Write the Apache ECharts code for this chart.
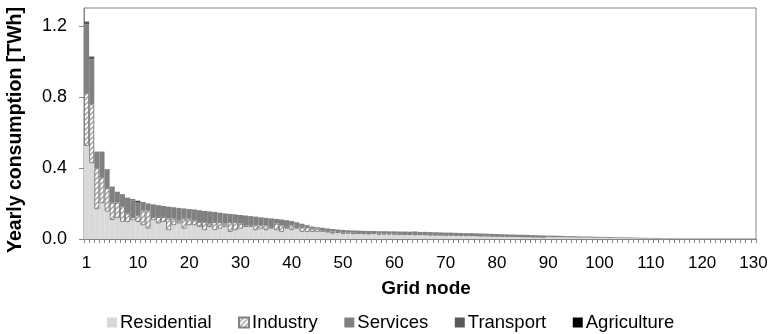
<!DOCTYPE html>
<html>
<head>
<meta charset="utf-8">
<script src="https://cdn.jsdelivr.net/npm/echarts@6/dist/echarts.min.js"></script>
<style>
  html, body { margin: 0; padding: 0; background: #fff; }
  #chart { width: 770px; height: 334px; }
</style>
</head>
<body>
<div id="chart"></div>
<script>
// Yearly consumption per grid node [TWh], by sector (nodes 1..131)
const residential = [
  0.524,0.426,0.167,0.201,0.154,0.107,0.117,0.097,0.096,0.105,
  0.096,0.077,0.058,0.105,0.087,0.096,0.049,0.077,0.087,0.058,
  0.077,0.077,0.068,0.049,0.068,0.049,0.058,0.068,0.040,0.049,
  0.058,0.068,0.068,0.049,0.058,0.049,0.058,0.049,0.040,0.058,
  0.049,0.058,0.040,0.040,0.040,0.040,0.040,0.036,0.030,0.034,
  0.028,0.031,0.026,0.030,0.027,0.025,0.029,0.024,0.027,0.025,
  0.026,0.023,0.025,0.024,0.022,0.024,0.023,0.021,0.022,0.021,
  0.020,0.021,0.019,0.020,0.018,0.019,0.018,0.017,0.017,0.016,
  0.016,0.015,0.015,0.014,0.014,0.013,0.013,0.012,0.012,0.011,
  0.011,0.010,0.010,0.010,0.009,0.009,0.008,0.008,0.008,0.007,
  0.007,0.007,0.006,0.006,0.006,0.005,0.005,0.005,0.004,0.004,
  0.004,0.003,0.003,0.003,0.002,0.002,0.002,0.001,0,0,
  0,0,0,0,0,0,0,0,0,0,
  0
];
const industry = [
  0.297,0.332,0.231,0.146,0.132,0.097,0.088,0.088,0.047,0.019,
  0.038,0.085,0.104,0.019,0.037,0.028,0.066,0.038,0.018,0.057,
  0.038,0.028,0.028,0.047,0.019,0.047,0.038,0.019,0.056,0.047,
  0.029,0.009,0.009,0.028,0.019,0.028,0.010,0.038,0.037,0.010,
  0.028,0.010,0.028,0.028,0.018,0.018,0.009,0.008,0.012,0.006,
  0.010,0.006,0.009,0.004,0.007,0.008,0.004,0.007,0.004,0.006,
  0.004,0.006,0.003,0.004,0.005,0.002,0.003,0.004,0.002,0.003,
  0.003,0.002,0.003,0.002,0.003,0.002,0.002,0.002,0.002,0.002,
  0.001,0.002,0.001,0.002,0.001,0.001,0.001,0.001,0.001,0.001,
  0,0,0,0,0,0,0,0,0,0,
  0,0,0,0,0,0,0,0,0,0,
  0,0,0,0,0,0,0,0,0,0,
  0,0,0,0,0,0,0,0,0,0,
  0
];
const services = [
  0.388,0.254,0.094,0.145,0.107,0.091,0.061,0.067,0.090,0.094,
  0.070,0.042,0.038,0.071,0.063,0.062,0.067,0.060,0.070,0.057,
  0.054,0.059,0.066,0.062,0.066,0.056,0.052,0.057,0.045,0.040,
  0.048,0.055,0.052,0.049,0.043,0.042,0.048,0.026,0.033,0.036,
  0.024,0.026,0.018,0.010,0.012,0.008,0.014,0.015,0.014,0.013,
  0.013,0.012,0.013,0.013,0.012,0.012,0.012,0.013,0.013,0.012,
  0.013,0.013,0.014,0.013,0.012,0.014,0.014,0.014,0.014,0.013,
  0.013,0.013,0.013,0.012,0.012,0.012,0.012,0.012,0.011,0.011,
  0.011,0.010,0.010,0.009,0.009,0.010,0.009,0.009,0.008,0.008,
  0.008,0.009,0.008,0.007,0.007,0.007,0.007,0.006,0.006,0.006,
  0.005,0.005,0.005,0.004,0.004,0.004,0.004,0.003,0.003,0.003,
  0.002,0.003,0.002,0.001,0.002,0.001,0.001,0.001,0,0,
  0,0,0,0,0,0,0,0,0,0,
  0
];
const transport = [
  0.015,0.015,0,0,0,0,0,0,0,0.006,
  0.006,0.004,0,0,0.003,0,0,0.003,0,0,
  0,0.002,0,0,0.002,0,0,0,0,0.002,
  0,0,0,0,0.002,0,0,0,0,0.002,
  0,0,0,0,0,0,0,0,0,0,
  0,0,0,0,0,0,0,0,0,0,
  0,0,0,0,0,0,0,0,0,0,
  0,0,0,0,0,0,0,0,0,0,
  0,0,0,0,0,0,0,0,0,0,
  0,0,0,0,0,0,0,0,0,0,
  0,0,0,0,0,0,0,0,0,0,
  0,0,0,0,0,0,0,0,0,0,
  0,0,0,0,0,0,0,0,0,0,
  0
];
const agriculture = [
  0,0,0,0,0,0,0,0,0,0,
  0.005,0,0,0,0,0,0,0,0,0,
  0,0,0,0,0,0,0,0,0,0,
  0,0,0,0,0,0,0,0,0,0,
  0,0,0,0,0,0,0,0,0,0,
  0,0,0,0,0,0,0,0,0,0,
  0,0,0,0,0.002,0,0,0,0,0,
  0,0,0,0,0,0,0,0,0,0,
  0,0,0,0,0,0,0,0,0,0,
  0,0,0,0,0,0,0,0,0,0,
  0,0,0,0,0,0,0,0,0,0,
  0,0,0,0,0,0,0,0,0,0,
  0,0,0,0,0,0,0,0,0,0,
  0
];

// Axis labels: one label every 10 node slots
const xTickLabels = ['1','10','20','30','40','50','60','70','80','90','100','110','120','130'];
const yTickValues = [0, 0.4, 0.8, 1.2];
const sectorNames = ['Residential','Industry','Services','Transport','Agriculture'];
const yTitle = 'Yearly consumption [TWh]';
const xTitle = 'Grid node';

const nodes = residential.map((_, i) => String(i + 1));

// Diagonal hatch used for the industry segments
function hatchPattern() {
  const s = 5;
  const c = document.createElement('canvas');
  c.width = s; c.height = s;
  const g = c.getContext('2d');
  g.fillStyle = '#ffffff';
  g.fillRect(0, 0, s, s);
  g.strokeStyle = '#a0a0a0';
  g.lineWidth = 1.4;
  g.beginPath();
  g.moveTo(-1, s + 1); g.lineTo(s + 1, -1);
  g.moveTo(-1, 1); g.lineTo(1, -1);
  g.moveTo(s - 1, s + 1); g.lineTo(s + 1, s - 1);
  g.stroke();
  return c;
}

const FONT = '"Liberation Sans", Arial, sans-serif';
const AXIS_GRAY = '#868686';

// zero-height segments are skipped so outlined bars leave no stray lines
const clean = arr => arr.map(v => (v === 0 ? '-' : v));

function barSeries(name, data, itemStyle) {
  return {
    name, type: 'bar', stack: 'total', data: clean(data),
    barCategoryGap: '0%', barGap: '0%',
    itemStyle, emphasis: { disabled: true }, animation: false
  };
}

const chart = echarts.init(document.getElementById('chart'), null, { renderer: 'canvas' });
chart.setOption({
  animation: false,
  textStyle: { fontFamily: FONT, color: '#000' },
  grid: {
    left: 84, right: 14, top: 8, bottom: 95,
    containLabel: false, outerBoundsMode: 'none',
    show: true, borderColor: AXIS_GRAY, borderWidth: 1, backgroundColor: 'transparent'
  },
  legend: {
    left: 107, top: 313, padding: 0,
    icon: 'rect', itemWidth: 10, itemHeight: 10, itemGap: 26.5,
    textStyle: { fontFamily: FONT, fontSize: 18.5, color: '#000', padding: [0, 0, 0, -2] },
    data: sectorNames
  },
  graphic: [{
    type: 'text', x: 16, y: 130, rotation: Math.PI / 2, silent: true,
    style: {
      text: yTitle, fill: '#000', align: 'center', verticalAlign: 'middle',
      font: 'bold 19.5px "Liberation Sans", Arial, sans-serif'
    }
  }],
  xAxis: {
    type: 'category', data: nodes, boundaryGap: true,
    axisLine: { lineStyle: { color: AXIS_GRAY, width: 1 } },
    axisTick: { show: true, interval: 0, length: 4, lineStyle: { color: AXIS_GRAY } },
    axisLabel: {
      interval: 9, margin: 16, fontSize: 17, color: '#000', fontFamily: FONT,
      formatter: (v, idx) => xTickLabels[idx / 10] || ''
    },
    name: xTitle, nameLocation: 'middle', nameGap: 40,
    nameTextStyle: { fontFamily: FONT, fontSize: 19, fontWeight: 'bold', color: '#000', padding: [0, 0, 0, 12] }
  },
  yAxis: {
    type: 'value', min: 0, max: 1.3, interval: 0.4,
    splitLine: { show: false },
    axisLine: { show: true, lineStyle: { color: AXIS_GRAY, width: 1 } },
    axisTick: { show: true, length: 5, lineStyle: { color: AXIS_GRAY }, customValues: yTickValues },
    axisLabel: {
      margin: 17, fontSize: 18, color: '#000', fontFamily: FONT,
      customValues: yTickValues,
      formatter: v => (yTickValues.includes(+v.toFixed(1)) ? v.toFixed(1) : '')
    }
  },
  series: [
    barSeries(sectorNames[0], residential, { color: '#d9d9d9' }),
    barSeries(sectorNames[1], industry, {
      color: { image: hatchPattern(), repeat: 'repeat' },
      borderColor: '#808080', borderWidth: 1
    }),
    barSeries(sectorNames[2], services, { color: '#808080' }),
    barSeries(sectorNames[3], transport, { color: '#595959' }),
    barSeries(sectorNames[4], agriculture, { color: '#000000' })
  ]
});
</script>
</body>
</html>
